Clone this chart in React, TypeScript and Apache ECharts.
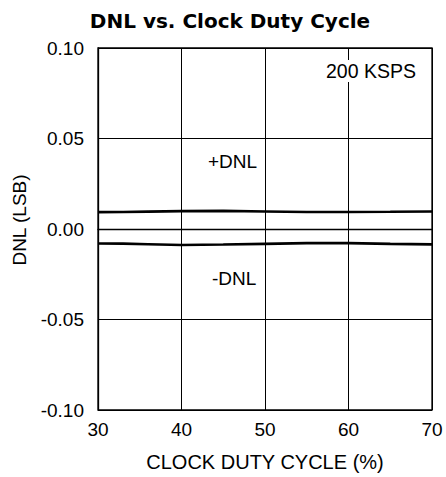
import React, { useEffect, useRef } from "react";
import * as echarts from "echarts";

const dutyCycle = [30, 33, 36, 40, 45, 50, 55, 60, 65, 70];
const dnlPlus = [0.0093, 0.0094, 0.0096, 0.0099, 0.0100, 0.0097, 0.0094, 0.0094, 0.0095, 0.0097];
const dnlMinus = [-0.0080, -0.0081, -0.0084, -0.0088, -0.0086, -0.0082, -0.0078, -0.0078, -0.0082, -0.0085];
const xTicks = [30, 40, 50, 60, 70];
const yTicks = [-0.1, -0.05, 0, 0.05, 0.1];

const FONT = "Liberation Sans, Arial, sans-serif";
const TITLE_FONT = "DejaVu Sans, Liberation Sans, sans-serif";

export default function App() {
  const ref = useRef<HTMLDivElement>(null);
  useEffect(() => {
    if (!ref.current) return;
    const chart = echarts.init(ref.current, undefined, { renderer: "svg" });
    const plus = dutyCycle.map((x, i) => [x, dnlPlus[i]]);
    const minus = dutyCycle.map((x, i) => [x, dnlMinus[i]]);
    const label = (text: string, x: number, y: number, size: number, bg?: boolean) => ({
      type: "text",
      x,
      y,
      z: 20,
      style: {
        text,
        fontFamily: FONT,
        fontSize: size,
        fill: "#000",
        verticalAlign: "middle",
        align: "left",
        backgroundColor: bg ? "#fff" : undefined,
        padding: bg ? [1, 1] : 0,
      },
    });
    chart.setOption({
      animation: false,
      backgroundColor: "#fff",
      title: {
        text: "DNL vs. Clock Duty Cycle",
        left: 225,
        textAlign: "center",
        top: 6,
        textStyle: { fontFamily: TITLE_FONT, fontSize: 20, fontWeight: "bold", color: "#000" },
      },
      grid: { left: 98, right: 14, top: 48, bottom: 67, containLabel: false },
      xAxis: {
        type: "value",
        min: xTicks[0],
        max: xTicks[xTicks.length - 1],
        interval: 10,
        name: "CLOCK DUTY CYCLE (%)",
        nameLocation: "middle",
        nameGap: 42,
        nameTextStyle: { fontFamily: FONT, fontSize: 20, color: "#000" },
        axisLine: { show: true, lineStyle: { color: "#000", width: 1.3 } },
        axisTick: { show: false },
        axisLabel: { fontFamily: FONT, fontSize: 19, color: "#000", margin: 10 },
        splitLine: { show: true, lineStyle: { color: "#000", width: 1 } },
      },
      yAxis: {
        type: "value",
        min: yTicks[0],
        max: yTicks[yTicks.length - 1],
        interval: 0.05,
        axisLine: { show: true, lineStyle: { color: "#000", width: 1.3 } },
        axisTick: { show: false },
        axisLabel: {
          fontFamily: FONT,
          fontSize: 19,
          color: "#000",
          margin: 14,
          formatter: (v: number) => v.toFixed(2),
        },
        splitLine: { show: true, lineStyle: { color: "#000", width: 1 } },
      },
      graphic: [
        {
          type: "rect",
          shape: { x: 98, y: 48, width: 334, height: 362 },
          style: { fill: "none", stroke: "#000", lineWidth: 1.3 },
          silent: true,
          z: 10,
        },
        {
          type: "text",
          x: 19,
          y: 220,
          rotation: Math.PI / 2,
          z: 20,
          style: {
            text: "DNL (LSB)",
            fontFamily: FONT,
            fontSize: 19,
            fill: "#000",
            align: "center",
            verticalAlign: "middle",
          },
        },
        label("200 KSPS", 325, 71, 19.5, true),
        label("+DNL", 208, 161, 19),
        label("-DNL", 212, 278, 19),
      ],
      series: [
        {
          name: "+DNL",
          type: "line",
          data: plus,
          showSymbol: false,
          smooth: false,
          lineStyle: { color: "#000", width: 2.6 },
        },
        {
          name: "-DNL",
          type: "line",
          data: minus,
          showSymbol: false,
          smooth: false,
          lineStyle: { color: "#000", width: 2.6 },
        },
      ],
    });
    return () => chart.dispose();
  }, []);
  return (
    <div
      ref={ref}
      style={{ position: "fixed", left: 0, top: 0, width: 446, height: 477, background: "#fff" }}
    />
  );
}
